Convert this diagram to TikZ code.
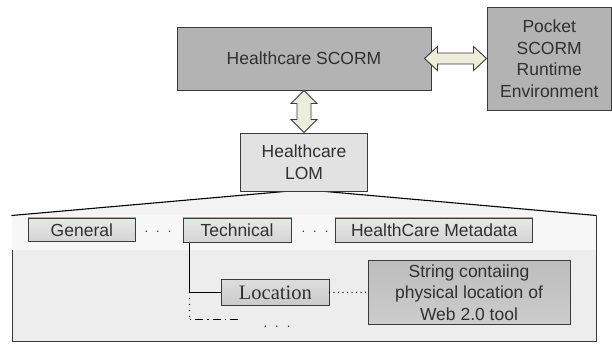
\documentclass[tikz,border=0pt]{standalone}
\usepackage{fontspec}
\setmainfont{Liberation Sans}
\newfontfamily\locfont{Liberation Serif}
\usetikzlibrary{calc}
\definecolor{linegray}{HTML}{3A3A3A}
\definecolor{textgray}{HTML}{303030}
\definecolor{darkbox}{HTML}{B3B3B3}
\definecolor{lomfill}{HTML}{E2E2E2}
\definecolor{framefill}{HTML}{EDEDED}
\definecolor{bandfill}{HTML}{F7F7F7}
\definecolor{trapfill}{HTML}{F3F3F3}
\definecolor{arrowfill}{HTML}{EDEDDC}
\definecolor{topblue}{HTML}{8DB0D6}
\begin{document}
\begin{tikzpicture}[x=1pt,y=-1pt,
  box/.style={draw=linegray, line width=1pt, inner sep=0pt, align=center,
    text=textgray, font=\fontsize{17.5}{21.5}\selectfont},
  dbl/.style={fill=arrowfill, draw=linegray, line width=0.9pt, line join=miter},
  conn/.style={draw=black, line width=1.3pt},
  dotsnode/.style={inner sep=0pt, text=textgray, font=\fontsize{13}{15}\selectfont},
  dotline/.style={black, line width=1.3pt, line cap=round, dash pattern=on 0pt off 4.5pt},
]
\colorlet{subtop}{black!9}
\colorlet{subbot}{black!17}
\tikzset{subbox/.style={box, top color=subtop, bottom color=subbot}}
\useasboundingbox (0,0) rectangle (612,343);
\fill[white] (0,0) rectangle (612,343);

% lower frame
\node[draw=linegray, line width=1pt, fill=framefill, minimum width=584pt, minimum height=125.5pt, inner sep=0pt] (frame) at (304,278.75) {};
\fill[bandfill] ($(frame.north west)+(0.6,0.6)$) rectangle ($(frame.north east)+(-0.6,34)$);

% top boxes
\node[box, fill=darkbox, minimum width=254pt, minimum height=63pt] (scorm) at (304,58.5) {Healthcare SCORM};
\node[box, fill=darkbox, minimum width=124.5pt, minimum height=103pt] (pocket) at (549.25,58.5) {Pocket\\SCORM\\Runtime\\Environment};

% trapezoid between LOM and frame
\coordinate (lomc) at (304,162);
\filldraw[fill=trapfill, draw=black, line width=1.1pt, line join=round]
  (frame.north west) -- ($(lomc)+(-14,29)$) -- ($(lomc)+(16,29)$) -- (frame.north east);
\node[box, fill=lomfill, minimum width=127pt, minimum height=58pt] (lom) at (lomc) {Healthcare\\LOM};

% double arrows
\coordinate (ha) at ($(scorm.east)+(-7,0)$);
\coordinate (hb) at (pocket.west);
\draw[dbl] (ha) -- ++(13,-12) -- ++(0,6.5) -- ($(hb)+(-13,-5.5)$) -- ++(0,-6.5) -- (hb)
  -- ++(-13,12) -- ++(0,-6.5) -- ($(ha)+(13,5.5)$) -- ++(0,6.5) -- cycle;
\coordinate (va) at (scorm.south);
\coordinate (vb) at (lom.north);
\draw[dbl] (va) -- ++(13,13) -- ++(-6,0) -- ($(vb)+(7,-13)$) -- ++(6,0) -- (vb)
  -- ++(-13,-13) -- ++(6,0) -- ($(va)+(-7,13)$) -- ++(-6,0) -- cycle;

% metadata category boxes
\node[subbox, minimum width=107.7pt, minimum height=23.7pt] (gen) at (81.85,229.85) {General};
\node[subbox, minimum width=108pt, minimum height=24pt] (tech) at (237,230) {Technical};
\node[subbox, minimum width=197pt, minimum height=24pt] (hcm) at (434.2,230) {HealthCare Metadata};
\foreach \b in {gen,tech,hcm}
  \draw[topblue, line width=1pt] (\b.north west) -- (\b.north east);
\node[dotsnode] (d1) at (158,232) {.\hspace{8pt}.\hspace{8pt}.};
\node[dotsnode] (d2) at (315,232) {.\hspace{8pt}.\hspace{8pt}.};

% location and string boxes
\node[box, top color=black!13, bottom color=black!21, minimum width=107.3pt, minimum height=26.7pt,
  font=\locfont\fontsize{20.5}{24}\selectfont] (loc) at (275.35,292.35) {Location};
\node[box, top color=black!26, bottom color=black!20, minimum width=202pt, minimum height=63.3pt] (str) at (469,292.35) {String contaiing\\physical location of\\Web 2.0 tool};

% connectors
\coordinate (tb) at ($(tech.south west)+(7,0)$);
\coordinate (tm) at (tb|-loc.west);
\draw[conn] (tb) -- (tm) -- (loc.west);
\coordinate (c1) at ($(tm)+(0,27)$);
\coordinate (c2) at ($(c1)+(52,0)$);
\draw[dotline, dash pattern=on 0pt off 6pt] (tm) -- (c1);
\draw[black, line width=1.5pt, dash pattern=on 1.5pt off 4pt on 8pt off 4pt] (c1) -- (c2);
\node[dotsnode] (more) at (277,327) {.\hspace{8pt}.\hspace{8pt}.};
\draw[dotline] (loc.east) -- (str.west);
\end{tikzpicture}
\end{document}
